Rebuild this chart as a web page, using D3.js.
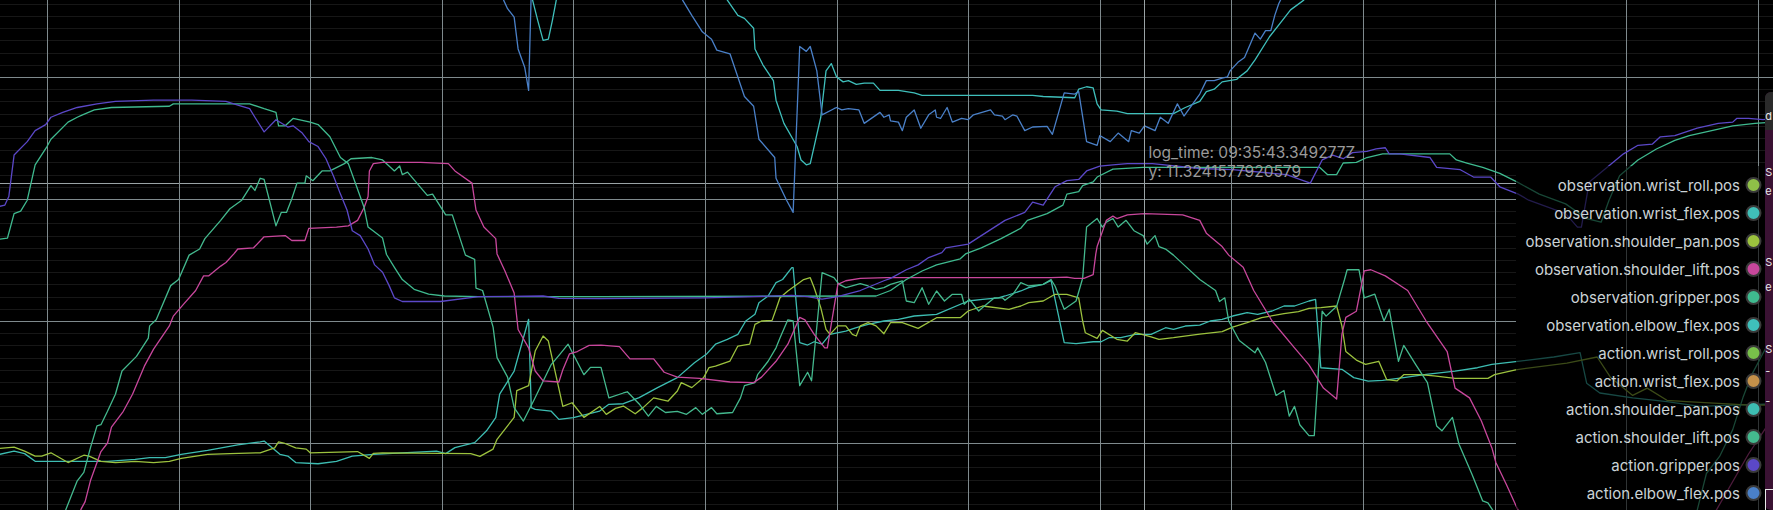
<!DOCTYPE html>
<html><head><meta charset="utf-8">
<script src="https://cdn.jsdelivr.net/npm/d3@7"></script>
<style>
html,body{margin:0;padding:0;background:#000;overflow:hidden}
svg{display:block}
text{font-family:Inter,"Noto Sans",sans-serif}
</style></head><body>
<svg id="chart" width="1773" height="510"></svg>
<script>
// ---------- data (t = seconds, v = degrees) ----------
const seriesNames = [
  "observation.wrist_roll.pos","observation.wrist_flex.pos","observation.shoulder_pan.pos",
  "observation.shoulder_lift.pos","observation.gripper.pos","observation.elbow_flex.pos",
  "action.wrist_roll.pos","action.wrist_flex.pos","action.shoulder_pan.pos",
  "action.shoulder_lift.pos","action.gripper.pos","action.elbow_flex.pos"];
const seriesColors = ["#8fbf48","#40bfb8","#9cc23e","#c8479c","#3fba8f","#3fbfbb",
  "#78c04a","#c4914a","#3dbdb2","#44b98e","#5b48c8","#4a80c8"];

const obsWristRoll = [[-0.36,-41],[4,-42],[9,-40],[13.12,-41]];
const obsWristFlex = [[-0.36,46],[4,47],[9,45],[13.12,46]];
const actWristRoll = [[-0.36,-42],[4,-43],[9,-41],[13.12,-42]];
const actWristFlex = [[-0.36,47],[4,48],[9,46],[13.12,47]];

const obsShoulderPan = [[-0.36,-10.44],[-0.25,-10.33],[-0.17,-10.66],[-0.09,-11.07],[-0.04,-11.07],[0.03,-10.8],[0.16,-11.6],[0.28,-11.0],[0.32,-11.07],[0.41,-11.5],[0.52,-11.6],[0.67,-11.5],[0.81,-11.6],[0.93,-11.5],[1.02,-11.26],[1.22,-10.93],[1.39,-10.87],[1.62,-10.8],[1.73,-10.4],[1.76,-9.9],[1.8,-10.0],[1.89,-10.4],[1.97,-10.5],[2.0,-10.8],[2.36,-10.7],[2.45,-11.26],[2.48,-10.85],[2.55,-10.8],[2.99,-10.85],[3.22,-10.87],[3.29,-11.1],[3.39,-10.5],[3.42,-9.7],[3.55,-7.9],[3.57,-5.7],[3.66,-5.3],[3.71,-2.46],[3.77,-1.23],[3.81,-1.64],[3.92,-7.0],[3.99,-6.7],[4.08,-7.9],[4.2,-7.0],[4.25,-7.65],[4.32,-7.16],[4.38,-6.97],[4.47,-7.6],[4.53,-7.1],[4.61,-6.3],[4.72,-6.56],[4.79,-5.74],[4.82,-5.05],[4.9,-5.46],[4.99,-4.64],[5.03,-3.83],[5.08,-3.7],[5.19,-3.28],[5.25,-2.05],[5.34,-1.9],[5.38,-0.27],[5.43,0],[5.51,0.05],[5.54,0.96],[5.57,1.9],[5.63,2.46],[5.75,3.4],[5.8,3.55],[5.83,2.73],[5.88,1.1],[5.92,-0.68],[5.95,-1.1],[6.01,-0.4],[6.07,-0.4],[6.12,-1.1],[6.15,-1.23],[6.18,-0.4],[6.24,-0.14],[6.3,-0.4],[6.36,-1.04],[6.41,-0.14],[6.5,-0.14],[6.62,-0.6],[6.76,0.27],[6.94,0.27],[7.0,0.82],[7.11,1.23],[7.31,0.96],[7.4,1.23],[7.46,1.5],[7.57,1.64],[7.66,2.19],[7.75,2.19],[7.84,1.9],[7.87,0],[7.89,-0.96],[7.98,-1.42],[8.02,-0.77],[8.13,-1.5],[8.21,-1.64],[8.27,-0.96],[8.39,-1.3],[8.45,-1.5],[8.56,-1.37],[8.76,-1.07],[8.93,-0.87],[9.01,-0.5],[9.12,-0.14],[9.23,0.27],[9.4,0.6],[9.51,0.77],[9.59,1.04],[9.68,1.1],[9.8,1.23],[9.84,-0.4],[9.87,-2.5],[9.95,-3.2],[10.02,-3.55],[10.12,-3.3],[10.18,-4.8],[10.26,-4.9],[10.31,-4.4],[10.43,-4.4],[10.54,-4.5],[10.7,-4.7],[10.95,-4.7],[11.0,-4.4],[11.16,-4.0],[11.55,-3.45],[11.78,-2.95],[11.88,-4.6],[12.05,-6.1],[12.16,-5.5],[12.31,-6.5],[12.46,-6.6],[12.94,-6.9],[13.12,-6.9]];

const actShoulderPan = [[-0.36,-10.93],[-0.25,-10.66],[-0.17,-10.87],[-0.09,-11.5],[0.09,-11.5],[0.23,-11.5],[0.46,-11.5],[0.67,-11.34],[0.78,-11.2],[0.9,-11.2],[1.02,-10.93],[1.22,-10.6],[1.45,-10.16],[1.62,-9.9],[1.65,-9.84],[1.77,-10.93],[1.83,-11.07],[1.89,-11.6],[2.06,-11.7],[2.2,-11.5],[2.32,-11.07],[2.48,-10.93],[2.7,-10.8],[2.96,-10.66],[3.03,-10.87],[3.1,-10.38],[3.25,-9.97],[3.34,-9.0],[3.41,-7.92],[3.44,-6.0],[3.55,-4.1],[3.66,0.14],[3.68,-7.1],[3.71,-7.24],[3.83,-7.38],[3.89,-8.06],[4.0,-7.92],[4.2,-7.38],[4.27,-6.83],[4.38,-6.78],[4.5,-6.28],[4.64,-5.46],[4.79,-4.64],[4.92,-3.42],[5.01,-2.73],[5.08,-1.9],[5.17,-1.5],[5.25,-1.1],[5.31,0],[5.38,0.55],[5.41,1.5],[5.48,2.05],[5.54,3.14],[5.59,3.4],[5.66,4.37],[5.67,4.37],[5.72,-1.78],[5.78,-1.97],[5.83,-1.7],[5.89,-1.9],[5.95,-1.1],[6.07,-0.82],[6.15,-0.55],[6.24,-0.27],[6.36,0],[6.47,0.14],[6.59,0.41],[6.76,0.55],[7.0,1.64],[7.11,1.78],[7.23,1.9],[7.28,2.05],[7.4,2.46],[7.46,2.73],[7.57,3.0],[7.63,3.33],[7.73,-1.78],[7.82,-1.86],[7.95,-1.7],[8.01,-1.7],[8.07,-1.37],[8.16,-1.37],[8.27,-1.1],[8.39,-1.1],[8.5,-0.55],[8.56,-0.68],[8.65,-0.41],[8.76,-0.34],[8.84,0],[8.93,0.14],[9.01,0.41],[9.12,0.68],[9.2,0.55],[9.31,0.82],[9.4,1.23],[9.48,1.23],[9.59,1.64],[9.64,1.78],[9.68,-3.83],[9.84,-3.96],[9.93,-4.64],[10.04,-4.92],[10.15,-4.86],[10.31,-4.64],[10.48,-4.37],[10.7,-4.1],[10.87,-3.83],[10.98,-3.55],[11.16,-3.33],[11.45,-2.95],[11.65,-2.6],[11.7,-5.1],[11.8,-5.9],[12.05,-6.3],[12.31,-6.6],[12.56,-7.0],[12.81,-6.9],[13.12,-6.8]];

const obsShoulderLift = [[0.2,-17],[0.26,-15.4],[0.29,-14.8],[0.33,-13.1],[0.41,-10.7],[0.46,-10.0],[0.49,-8.7],[0.58,-7.4],[0.65,-6.0],[0.74,-3.7],[0.81,-2.3],[0.93,-0.4],[0.96,0.4],[1.04,1.4],[1.13,2.5],[1.19,3.7],[1.23,3.7],[1.32,4.5],[1.36,4.8],[1.42,5.5],[1.45,5.9],[1.57,6.0],[1.65,6.9],[1.81,7.0],[1.86,6.6],[1.96,6.6],[1.99,7.6],[2.2,7.7],[2.29,7.8],[2.36,8.25],[2.41,9.3],[2.44,10.2],[2.45,12.3],[2.48,12.9],[2.55,13.0],[2.84,13.0],[3.05,12.9],[3.1,12.3],[3.23,11.3],[3.26,9.1],[3.32,7.7],[3.41,6.75],[3.42,5.5],[3.48,4.1],[3.55,2.3],[3.58,-0.7],[3.66,-2.2],[3.71,-4.1],[3.77,-4.9],[3.89,-5.0],[3.92,-4.0],[3.97,-2.7],[4.03,-2.5],[4.12,-2.0],[4.21,-1.97],[4.35,-2.1],[4.43,-3.1],[4.61,-3.1],[4.69,-4.2],[4.79,-4.6],[4.96,-4.7],[5.19,-5.0],[5.37,-5.05],[5.43,-4.6],[5.54,-3.3],[5.63,-1.9],[5.72,0.3],[5.76,0.1],[5.83,-1.1],[5.91,-2.2],[5.93,-2.2],[6.01,3.0],[6.07,3.3],[6.18,3.5],[6.38,3.55],[7.63,3.55],[7.75,3.6],[7.81,3.5],[7.88,3.5],[7.95,3.8],[7.97,5.5],[7.98,6.1],[8.05,8.25],[8.1,8.6],[8.13,8.4],[8.21,8.7],[8.34,8.8],[8.63,8.7],[8.76,8.25],[8.81,7.2],[8.93,6.1],[8.98,5.4],[9.09,4.4],[9.17,2.5],[9.31,0],[9.48,-2.2],[9.59,-3.6],[9.7,-5.5],[9.8,-6.4],[9.84,-1.1],[9.87,0.3],[9.95,0.8],[10.01,4.1],[10.06,4.2],[10.17,3.7],[10.34,2.5],[10.48,0],[10.64,-2.5],[10.7,-5.5],[10.81,-6.3],[10.9,-8.2],[10.98,-10.4],[11.01,-11.6],[11.09,-13.4],[11.17,-15.3],[11.4,-19],[12.4,-19],[12.68,-15.6],[12.93,-10.9],[13.12,-7.8]];

const actShoulderLift = [[0.1,-17],[0.145,-15.4],[0.23,-13.1],[0.28,-12.4],[0.33,-10.4],[0.38,-8.6],[0.41,-8.5],[0.46,-7.4],[0.52,-6.0],[0.57,-4.1],[0.68,-2.9],[0.77,-1.4],[0.78,-0.4],[0.83,0.1],[0.94,2.9],[1.0,3.4],[1.08,5.4],[1.16,5.9],[1.2,6.75],[1.32,8.25],[1.39,9.2],[1.48,9.9],[1.55,11.1],[1.58,10.7],[1.62,11.7],[1.65,11.6],[1.74,7.8],[1.78,8.9],[1.82,8.9],[1.86,10.0],[1.9,11.3],[1.96,11.3],[1.97,11.9],[2.02,11.5],[2.09,12.3],[2.15,12.3],[2.26,12.9],[2.31,13.3],[2.47,13.4],[2.55,13.2],[2.64,12.3],[2.68,12.7],[2.7,12.0],[2.74,12.2],[2.89,10.3],[2.93,10.4],[3.03,8.7],[3.08,8.7],[3.18,5.4],[3.25,5.05],[3.26,2.7],[3.31,2.5],[3.39,-0.5],[3.42,-3.0],[3.5,-4.6],[3.55,-7.1],[3.62,-8.2],[3.7,-6.5],[3.83,-3.6],[3.9,-2.7],[3.96,-1.9],[4.08,-4.4],[4.13,-3.8],[4.21,-3.8],[4.27,-6.3],[4.38,-5.9],[4.41,-5.8],[4.5,-6.8],[4.57,-7.8],[4.63,-7.0],[4.7,-7.5],[4.79,-7.4],[4.86,-7.65],[4.93,-7.1],[4.98,-7.65],[5.05,-7.1],[5.09,-7.6],[5.21,-7.5],[5.27,-6.3],[5.3,-5.3],[5.38,-5.05],[5.4,-4.4],[5.48,-3.3],[5.54,-2.2],[5.57,-1.4],[5.63,0.1],[5.67,0.0],[5.72,-5.3],[5.78,-4.2],[5.81,-4.9],[5.89,3.96],[5.98,3.55],[6.02,3.0],[6.07,2.73],[6.18,3.06],[6.24,2.87],[6.3,2.6],[6.36,2.73],[6.41,3.0],[6.5,3.28],[6.53,1.64],[6.59,1.5],[6.65,2.73],[6.7,1.37],[6.76,2.46],[6.82,1.64],[6.88,2.19],[6.95,2.19],[6.97,1.37],[7.01,1.78],[7.08,0.82],[7.11,1.1],[7.2,1.9],[7.26,1.9],[7.28,1.7],[7.34,2.19],[7.4,3.14],[7.46,2.87],[7.57,3.0],[7.63,3.4],[7.66,2.87],[7.73,0.96],[7.82,1.64],[7.87,3.5],[7.9,7.7],[7.98,8.4],[8.02,7.7],[8.05,8.1],[8.1,8.4],[8.14,7.7],[8.2,8.25],[8.26,7.4],[8.33,7.0],[8.36,6.3],[8.42,7.0],[8.45,6.1],[8.5,5.9],[8.56,5.4],[8.65,4.5],[8.76,3.4],[8.88,2.5],[8.91,1.6],[8.95,1.9],[8.98,0],[9.06,-1.6],[9.18,-2.6],[9.2,-2.2],[9.26,-3.4],[9.34,-6.1],[9.4,-5.7],[9.44,-7.8],[9.48,-7.0],[9.52,-8.5],[9.59,-9.4],[9.63,-9.4],[9.69,0.8],[9.72,0.4],[9.76,0.8],[9.8,1.2],[9.86,3.4],[9.88,4.2],[9.97,4.2],[10.01,1.9],[10.09,2.2],[10.16,0],[10.2,0.96],[10.27,-3.3],[10.31,-2.0],[10.4,-3.55],[10.49,-5.05],[10.56,-8.6],[10.6,-9.0],[10.68,-7.9],[10.73,-10.1],[10.83,-12.6],[10.91,-14.75],[10.95,-14.9],[10.98,-15.4],[11.2,-19],[12.3,-19],[12.54,-15.5],[12.61,-12.5],[12.71,-11.1],[12.81,-8.9],[12.89,-6.2],[12.95,-4.5],[13.12,-1]];

const obsGripper = [[-0.36,6.7],[-0.3,6.8],[-0.25,8.8],[-0.2,9.0],[-0.15,9.9],[-0.09,12.8],[0.0,14.3],[0.03,14.9],[0.16,16.3],[0.23,16.7],[0.27,16.9],[0.36,17.3],[0.49,17.5],[0.93,17.6],[0.96,17.8],[1.1,17.8],[1.54,17.8],[1.65,17.4],[1.74,17.1],[1.76,16.0],[1.81,16.0],[1.87,16.6],[2.0,16.3],[2.06,16.1],[2.15,15.1],[2.23,13.4],[2.29,12.9],[2.35,11.1],[2.41,9.3],[2.44,7.7],[2.55,6.8],[2.58,5.45],[2.64,4.4],[2.7,3.4],[2.79,2.6],[2.9,2.2],[3.02,2.05],[3.28,2.0],[4.2,2.0],[6.3,2.05],[6.41,2.5],[6.53,3.4],[6.65,4.1],[6.76,4.6],[6.94,5.1],[6.98,5.5],[7.1,6.0],[7.25,6.75],[7.4,7.6],[7.45,8.25],[7.6,8.8],[7.72,9.5],[7.75,10.4],[7.84,10.6],[7.87,11.1],[7.95,11.4],[7.98,11.8],[8.1,12.45],[8.33,12.6],[9.67,12.6],[9.73,12.0],[9.8,12.0],[9.85,12.95],[9.95,13.0],[10.03,13.4],[10.15,13.7],[10.66,13.7],[10.71,13.2],[10.79,12.95],[10.91,12.6],[11.04,12.1],[11.17,11.4],[11.34,10.4],[11.54,9.6],[11.7,8.4],[11.81,8.1],[11.87,9.9],[11.95,11.9],[12.09,13.2],[12.23,14.1],[12.37,14.8],[12.48,15.2],[12.65,15.6],[12.81,16.0],[12.98,16.2],[13.12,16.3]];

const actGripper = [[-0.36,9.4],[-0.32,9.5],[-0.29,10.2],[-0.25,13.6],[-0.15,14.7],[-0.09,15.6],[-0.01,16.1],[0.03,16.7],[0.12,17.1],[0.23,17.5],[0.38,17.8],[0.52,18.0],[0.81,18.1],[1.1,18.1],[1.36,18.0],[1.45,17.7],[1.54,17.4],[1.58,16.7],[1.65,15.5],[1.74,16.5],[1.83,15.9],[1.87,16.0],[1.94,15.4],[1.99,14.7],[2.06,14.3],[2.12,13.3],[2.18,11.8],[2.23,10.4],[2.28,9.1],[2.32,7.4],[2.38,7.0],[2.44,5.9],[2.49,4.6],[2.55,4.0],[2.6,2.9],[2.64,1.9],[2.7,1.6],[2.99,1.6],[3.28,2.0],[3.77,2.05],[3.89,1.85],[4.2,1.83],[5.0,1.9],[5.37,2.0],[5.66,2.1],[5.78,2.0],[5.89,1.8],[6.0,1.97],[6.18,2.5],[6.36,3.3],[6.41,3.5],[6.53,4.2],[6.62,4.6],[6.7,5.2],[6.8,5.6],[6.83,6.0],[7.0,6.3],[7.1,7.0],[7.28,8.25],[7.43,8.9],[7.49,9.75],[7.57,9.5],[7.66,11.0],[7.75,11.5],[7.84,11.6],[7.9,12.3],[8.0,12.7],[8.1,12.8],[8.21,12.9],[8.4,12.9],[8.76,12.5],[9.01,12.4],[9.42,12.0],[9.52,11.6],[9.6,11.3],[9.69,13.2],[9.77,13.6],[9.85,13.3],[9.92,13.8],[10.03,13.9],[10.1,14.1],[10.17,14.2],[10.2,13.7],[10.28,13.7],[10.51,13.4],[10.56,12.6],[10.74,12.4],[10.84,11.8],[10.97,11.8],[11.04,11.0],[11.18,10.4],[11.26,9.9],[11.54,8.8],[11.63,7.7],[11.66,7.7],[11.72,11.4],[11.81,12.2],[11.98,13.7],[12.09,14.4],[12.2,14.5],[12.26,15.1],[12.37,15.2],[12.54,15.8],[12.7,16.2],[12.81,16.3],[12.84,16.6],[12.93,16.6],[13.04,16.5],[13.12,16.6]];

const obsElbowFlex = [[3.55,30],[3.69,26.3],[3.73,24.6],[3.77,23.0],[3.81,23.1],[3.84,24.6],[3.87,26.3],[3.95,30],[5.0,30],[5.17,26.3],[5.25,25.05],[5.3,24.8],[5.37,24.0],[5.38,22.3],[5.44,21.0],[5.52,19.7],[5.54,18.1],[5.6,16.2],[5.7,14.3],[5.73,13.2],[5.77,12.8],[5.8,12.9],[5.88,16.7],[5.92,20.5],[5.96,21.1],[6.0,20.0],[6.05,19.6],[6.09,19.7],[6.15,19.4],[6.21,19.5],[6.28,19.5],[6.33,18.9],[6.47,18.9],[6.59,18.7],[6.65,18.5],[7.49,18.5],[7.57,18.4],[7.81,18.3],[7.84,19.0],[7.9,19.2],[7.95,19.1],[7.98,17.8],[8.01,17.3],[8.13,17.2],[8.21,17.0],[8.56,17.0],[8.65,17.5],[8.76,18.0],[8.81,18.8],[8.87,19.0],[8.93,19.6],[9.04,19.8],[9.06,20.0],[9.12,20.5],[9.18,21.4],[9.29,23.3],[9.37,24.4],[9.45,25.5],[9.55,26.3],[9.7,29],[13.12,31]];

const actElbowFlex = [[3.4,29],[3.47,26.3],[3.5,25.6],[3.55,24.9],[3.58,22.3],[3.63,20.8],[3.66,18.9],[3.68,27],[3.75,31],[4.5,31],[4.78,28],[4.83,26.3],[4.9,25.05],[4.98,23.7],[5.05,23.1],[5.09,22.2],[5.19,21.9],[5.3,18.4],[5.37,17.6],[5.41,14.9],[5.53,13.4],[5.54,11.7],[5.62,9.9],[5.67,8.9],[5.72,22.5],[5.77,22.1],[5.8,22.5],[5.85,20.5],[5.89,16.9],[5.98,17.4],[6.0,17.5],[6.04,17.3],[6.09,17.4],[6.17,17.3],[6.21,16.2],[6.33,17.1],[6.36,16.7],[6.4,16.9],[6.41,16.4],[6.47,16.3],[6.5,15.6],[6.53,16.7],[6.59,17.3],[6.64,15.8],[6.7,16.9],[6.75,17.3],[6.76,16.7],[6.79,16.6],[6.84,17.5],[6.88,16.3],[6.95,16.6],[7.0,16.5],[7.04,16.9],[7.17,17.3],[7.2,16.9],[7.26,16.8],[7.28,16.5],[7.34,16.9],[7.37,16.8],[7.43,15.6],[7.49,15.9],[7.6,15.95],[7.64,15.3],[7.73,18.7],[7.81,18.6],[7.84,18.8],[7.9,14.7],[7.98,14.4],[8.0,15.2],[8.08,14.7],[8.14,15.4],[8.22,14.7],[8.24,15.6],[8.3,15.4],[8.34,16.0],[8.42,15.6],[8.46,16.7],[8.52,16.2],[8.59,17.8],[8.64,16.8],[8.76,18.6],[8.81,19.7],[8.87,19.7],[8.93,19.9],[8.97,20.0],[8.99,20.5],[9.05,21.2],[9.1,21.6],[9.18,23.6],[9.22,23.1],[9.26,23.8],[9.3,23.8],[9.33,25.05],[9.36,26.0],[9.45,28],[9.6,30],[13.12,32]];

const seriesData = [obsWristRoll, obsWristFlex, obsShoulderPan, obsShoulderLift, obsGripper, obsElbowFlex,
  actWristRoll, actWristFlex, actShoulderPan, actShoulderLift, actGripper, actElbowFlex];
const drawOrder = [0,1,6,7,8,2,9,3,4,10,5,11];

const timeTicks = [0,1,2,3,4,5,6,7,8,9,10,11,12,13];
const majorTicks = [-10,0,10,20];
const minorTicks = d3.range(-15, 27, 1);
const cursorTime = 8.34, cursorValue = 11.3241577920579;
const cursorLabel = "log_time: 09:35:43.349277Z";
const sideLetters = ["d","S","e","S","e","S","-","-"];

// ---------- layout ----------
const W = 1773, H = 510;
const svg = d3.select("#chart");
const x = d3.scaleLinear().domain([-0.357, 13.116]).range([0, W]);
const y = d3.scaleLinear().domain([-15.49, 26.31]).range([H, 0]);
const legX = 1516, legY = 166, legR = 1765;

svg.append("rect").attr("width", W).attr("height", H).attr("fill", "#000");

// minor horizontal grid
svg.append("g").attr("shape-rendering","crispEdges")
  .call(d3.axisRight(y).tickValues(minorTicks).tickSize(W).tickFormat(""))
  .call(g => g.select(".domain").remove())
  .call(g => g.selectAll("line").attr("stroke","#171717"));
// major horizontal grid
svg.append("g").attr("shape-rendering","crispEdges")
  .call(d3.axisRight(y).tickValues(majorTicks).tickSize(W).tickFormat(""))
  .call(g => g.select(".domain").remove())
  .call(g => g.selectAll("line").attr("stroke","#7f8a8d"));
// cursor horizontal
svg.append("line").attr("x1",0).attr("x2",W)
  .attr("y1", Math.round(y(cursorValue))+0.5).attr("y2", Math.round(y(cursorValue))+0.5)
  .attr("stroke","#9aa3a5");

// legend backdrop (hides horizontal grid)
svg.append("rect").attr("x",legX).attr("y",legY).attr("width",legR-legX).attr("height",H-legY)
  .attr("rx",4).attr("fill","#000");

// vertical grid
svg.append("g").attr("shape-rendering","crispEdges")
  .call(d3.axisBottom(x).tickValues(timeTicks).tickSize(H).tickFormat(""))
  .call(g => g.select(".domain").remove())
  .call(g => g.selectAll("line").attr("stroke","#7f8a8d"));

// data lines
svg.append("clipPath").attr("id","plotclip").append("rect").attr("width",W).attr("height",H);
const line = d3.line().x(d => x(d[0])).y(d => y(d[1]));
const lines = svg.append("g").attr("clip-path","url(#plotclip)");
drawOrder.forEach(i => {
  lines.append("path").datum(seriesData[i]).attr("d", line)
    .attr("fill","none").attr("stroke", seriesColors[i]).attr("stroke-width",1.3)
    .attr("stroke-linejoin","round");
});

// cursor vertical
svg.append("line").attr("x1", Math.round(x(cursorTime))+0.5).attr("x2", Math.round(x(cursorTime))+0.5)
  .attr("y1",0).attr("y2",H).attr("stroke","#9aa3a5");

// tooltip text
const tip = svg.append("g").attr("font-size",15.5).attr("fill","#9a9a9a");
tip.append("text").attr("x", x(cursorTime)+4).attr("y", 158).text(cursorLabel);
tip.append("text").attr("x", x(cursorTime)+4).attr("y", 177).text("y: " + cursorValue);

// legend dimmer
svg.append("rect").attr("x",legX).attr("y",legY).attr("width",legR-legX).attr("height",H-legY)
  .attr("rx",4).attr("fill","#000").attr("fill-opacity",0.62);

const leg = svg.append("g");
seriesNames.forEach((n, i) => {
  const cy = 185 + 28*i;
  leg.append("text").attr("x",1740).attr("y",cy+5.5).attr("text-anchor","end")
    .attr("font-size",15).attr("fill","#cbd3d6").text(n);
  leg.append("circle").attr("cx",1753.5).attr("cy",cy).attr("r",7)
    .attr("fill",seriesColors[i]).attr("stroke","#3a3a3a").attr("stroke-width",2);
});

// right side panel
svg.append("rect").attr("x",1765).attr("y",92).attr("width",20).attr("height",H-92).attr("rx",6).attr("fill","#3a1233");
svg.append("rect").attr("x",1765).attr("y",92).attr("width",20).attr("height",38).attr("rx",6).attr("fill","#2a2a2a");
svg.append("rect").attr("x",1765).attr("y",118).attr("width",20).attr("height",12).attr("fill","#2a2a2a");
const sideY = [120,176,195,266,291,353,375,405];
sideLetters.forEach((c,i) => svg.append("text").attr("x",1765.3).attr("y",sideY[i])
  .attr("font-size",11).attr("fill","#e8e8e8").text(c));
svg.append("rect").attr("x",1765.5).attr("y",489.5).attr("width",20).attr("height",30)
  .attr("fill","none").attr("stroke","#e8e8e8").attr("stroke-width",1);
</script>
</body></html>
